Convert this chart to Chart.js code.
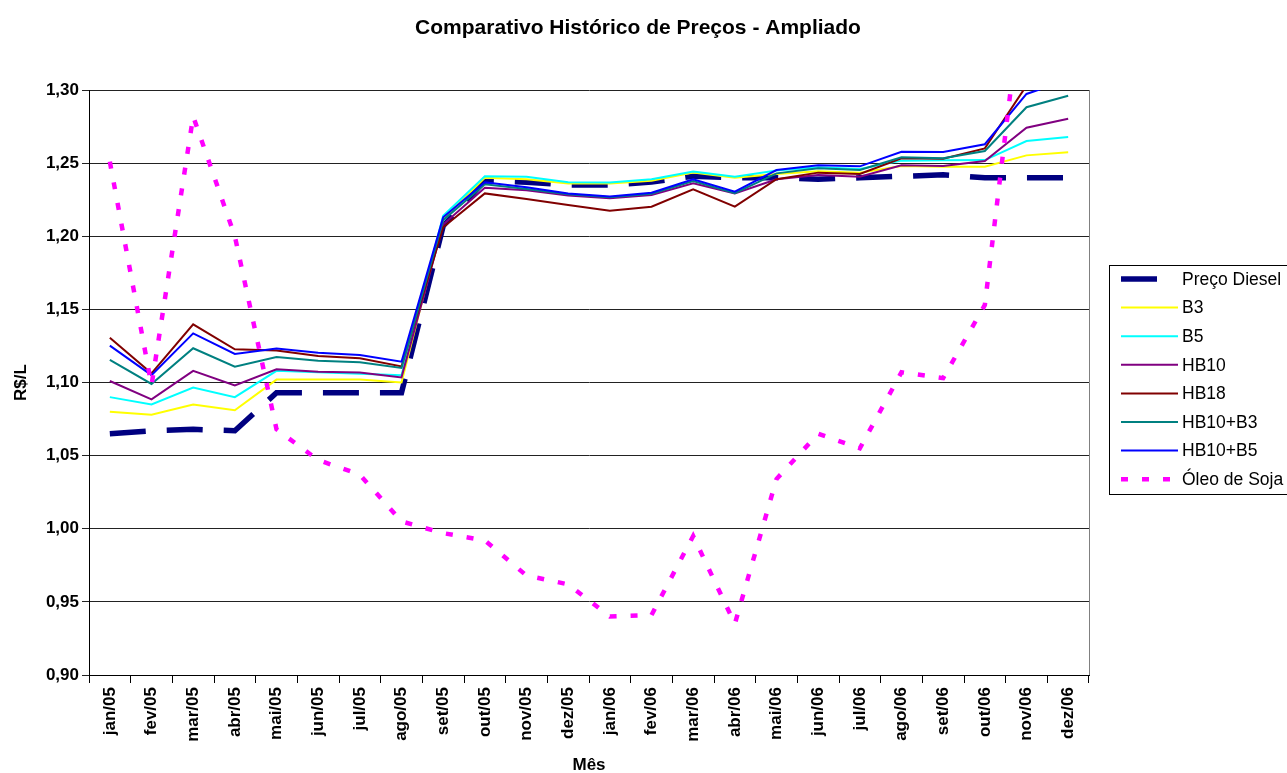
<!DOCTYPE html>
<html lang="pt-BR">
<head>
<meta charset="utf-8">
<title>Comparativo Histórico de Preços - Ampliado</title>
<script src="https://cdn.jsdelivr.net/npm/chart.js@4/dist/chart.umd.min.js"></script>
<style>
  html, body { margin: 0; padding: 0; background: #ffffff; }
  #wrap { width: 1287px; height: 773px; position: relative; }
  canvas { display: block; }
</style>
</head>
<body>
<div id="wrap"><canvas id="chart" width="1287" height="773"></canvas></div>
<script>
// Meses do período
const months = ['jan/05','fev/05','mar/05','abr/05','mai/05','jun/05','jul/05','ago/05','set/05','out/05','nov/05','dez/05',
                'jan/06','fev/06','mar/06','abr/06','mai/06','jun/06','jul/06','ago/06','set/06','out/06','nov/06','dez/06'];

// Preços em R$/L
const precoDiesel = [1.065, 1.067, 1.068, 1.067, 1.093, 1.093, 1.093, 1.093, 1.207, 1.238, 1.237, 1.235,
                     1.235, 1.237, 1.241, 1.240, 1.240, 1.239, 1.240, 1.241, 1.242, 1.240, 1.240, 1.240];
const b3 = [1.080, 1.078, 1.085, 1.081, 1.102, 1.102, 1.102, 1.100, 1.212, 1.240, 1.239, 1.236,
            1.236, 1.238, 1.2435, 1.240, 1.2426, 1.2445, 1.2435, 1.248, 1.2476, 1.2476, 1.2553, 1.2574];
const b5 = [1.090, 1.085, 1.0965, 1.090, 1.108, 1.107, 1.106, 1.105, 1.214, 1.241, 1.2407, 1.237,
            1.2367, 1.239, 1.2442, 1.2407, 1.245, 1.2471, 1.246, 1.2517, 1.2519, 1.2521, 1.2651, 1.2679];
const hb10 = [1.101, 1.0885, 1.108, 1.098, 1.109, 1.1074, 1.1068, 1.1035, 1.208, 1.2332, 1.2314, 1.2278,
              1.2259, 1.2282, 1.2362, 1.2293, 1.239, 1.2419, 1.2407, 1.2485, 1.248, 1.2515, 1.2742, 1.2804];
const hb18 = [1.1306, 1.1063, 1.1398, 1.1227, 1.1218, 1.1181, 1.1165, 1.111, 1.2061, 1.2293, 1.2255, 1.2214,
              1.2175, 1.2202, 1.2321, 1.2202, 1.239, 1.2435, 1.2426, 1.2533, 1.253, 1.2601, 1.303, 1.312];
const hb10b3 = [1.1154, 1.099, 1.1234, 1.1108, 1.1174, 1.1149, 1.1138, 1.110, 1.211, 1.2355, 1.2323, 1.2287,
                1.2266, 1.2291, 1.2378, 1.2295, 1.243, 1.2465, 1.2453, 1.254, 1.2533, 1.2583, 1.2882, 1.2961];
const hb10b5 = [1.1252, 1.105, 1.1336, 1.1195, 1.1232, 1.1204, 1.1188, 1.1142, 1.213, 1.2369, 1.2335, 1.2293,
                1.2271, 1.2298, 1.239, 1.2305, 1.2453, 1.2485, 1.2478, 1.2578, 1.2576, 1.2629, 1.2973, 1.307];
const oleoSoja = [1.251, 1.098, 1.282, 1.200, 1.068, 1.047, 1.037, 1.005, 0.997, 0.992, 0.968, 0.962,
                  0.940, 0.941, 0.995, 0.935, 1.034, 1.065, 1.055, 1.107, 1.103, 1.153, 1.390, 1.420];

// Eixo Y
const yMin = 0.90, yMax = 1.30, yStep = 0.05;

const FONT = "Arial, 'Liberation Sans', Helvetica, sans-serif";

function serie(label, data, color, width, dash, order) {
  return {
    label, data,
    borderColor: color,
    backgroundColor: color,
    borderWidth: width,
    borderDash: dash,
    borderCapStyle: 'butt',
    borderJoinStyle: 'miter',
    pointRadius: 0,
    pointHoverRadius: 0,
    tension: 0,
    fill: false,
    order
  };
}

const datasets = [
  serie('Preço Diesel', precoDiesel, '#000080', 5.5, [36, 21], 7),
  serie('B3', b3, '#FFFF00', 2, [], 6),
  serie('B5', b5, '#00FFFF', 2, [], 5),
  serie('HB10', hb10, '#800080', 2, [], 4),
  serie('HB18', hb18, '#800000', 2, [], 3),
  serie('HB10+B3', hb10b3, '#008080', 2, [], 2),
  serie('HB10+B5', hb10b5, '#0000FF', 2, [], 1),
  serie('Óleo de Soja', oleoSoja, '#FF00FF', 4.5, [7, 14], 0)
];

// Título, borda direita da área do gráfico e legenda em caixa
const decoracoes = {
  id: 'decoracoes',
  afterDraw(chart) {
    const ctx = chart.ctx;
    const area = chart.chartArea;
    ctx.save();

    // título
    ctx.fillStyle = '#000';
    ctx.font = 'bold 21px ' + FONT;
    ctx.textAlign = 'center';
    ctx.textBaseline = 'middle';
    ctx.fillText('Comparativo Histórico de Preços - Ampliado', 638, 28);

    // borda direita
    ctx.strokeStyle = '#808080';
    ctx.lineWidth = 1;
    ctx.beginPath();
    ctx.moveTo(Math.round(area.right) + 0.5, area.top);
    ctx.lineTo(Math.round(area.right) + 0.5, area.bottom);
    ctx.stroke();

    // legenda
    const boxX = 1109.5, boxY = 265.5, boxW = 220, boxH = 229;
    ctx.fillStyle = '#fff';
    ctx.fillRect(boxX, boxY, boxW, boxH);
    ctx.strokeStyle = '#000';
    ctx.lineWidth = 1;
    ctx.strokeRect(boxX, boxY, boxW, boxH);

    const y0 = 279, dy = 28.6;
    chart.data.datasets.forEach((ds, i) => {
      const y = y0 + i * dy;
      ctx.save();
      ctx.strokeStyle = ds.borderColor;
      ctx.lineWidth = ds.borderWidth;
      ctx.setLineDash(ds.borderDash || []);
      ctx.lineCap = 'butt';
      ctx.beginPath();
      ctx.moveTo(1121, y);
      ctx.lineTo(1178, y);
      ctx.stroke();
      ctx.restore();
      ctx.fillStyle = '#000';
      ctx.font = '17.5px ' + FONT;
      ctx.textAlign = 'left';
      ctx.textBaseline = 'middle';
      ctx.fillText(ds.label, 1182, y + 1);
    });
    ctx.restore();
  }
};

new Chart(document.getElementById('chart'), {
  type: 'line',
  data: { labels: months, datasets },
  options: {
    responsive: false,
    animation: false,
    devicePixelRatio: 1,
    layout: { padding: { left: 0, right: 198, top: 90, bottom: 0 } },
    plugins: {
      legend: { display: false },
      title: { display: false },
      tooltip: { enabled: false }
    },
    scales: {
      x: {
        type: 'category',
        offset: true,
        grid: {
          display: true,
          offset: true,
          drawOnChartArea: false,
          drawTicks: true,
          tickLength: 8,
          color: '#000',
          lineWidth: 1
        },
        border: { display: true, color: '#000', width: 1 },
        ticks: {
          autoSkip: false,
          minRotation: 90,
          maxRotation: 90,
          padding: 4,
          color: '#000',
          font: { family: FONT, size: 17, weight: 'bold' }
        },
        title: {
          display: true,
          text: 'Mês',
          color: '#000',
          padding: { top: 0, bottom: -3 },
          font: { family: FONT, size: 17, weight: 'bold' }
        },
        afterFit(scale) { scale.height = 98; }
      },
      y: {
        min: yMin,
        max: yMax,
        grid: {
          color: '#222',
          lineWidth: 1,
          drawTicks: true,
          tickLength: 7
        },
        border: { display: true, color: '#000', width: 1 },
        ticks: {
          stepSize: yStep,
          padding: 3,
          color: '#000',
          font: { family: FONT, size: 17, weight: 'bold' },
          callback: (v) => Number(v).toFixed(2).replace('.', ',')
        },
        title: {
          display: true,
          text: 'R$/L',
          color: '#000',
          padding: { top: 11, bottom: 0 },
          font: { family: FONT, size: 17, weight: 'bold' }
        },
        afterFit(scale) { scale.width = 89; }
      }
    }
  },
  plugins: [decoracoes]
});
</script>
</body>
</html>
